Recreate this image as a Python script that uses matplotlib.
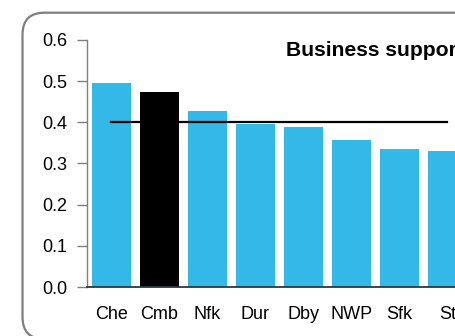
import numpy as np
import matplotlib.pyplot as plt
from matplotlib.patches import FancyBboxPatch

# data
areas = ['Che', 'Cmb', 'Nfk', 'Dur', 'Dby', 'NWP', 'Sfk', 'St']
values = [0.495, 0.473, 0.427, 0.396, 0.388, 0.357, 0.335, 0.330]
bar_colours = ['#33b8e8', '#000000', '#33b8e8', '#33b8e8', '#33b8e8', '#33b8e8', '#33b8e8', '#33b8e8']
average = 0.40
title = 'Business support'

plt.rcParams['font.family'] = ['Liberation Sans', 'DejaVu Sans']

fig = plt.figure(figsize=(4.55, 3.36), dpi=100)

# rounded frame (runs off the right and bottom edge like the reference)
frame = FancyBboxPatch((0.225, -0.03), 5.0, 3.263,
                       boxstyle='round,pad=0,rounding_size=0.22',
                       transform=fig.dpi_scale_trans, fill=False,
                       ec='#7f7f7f', lw=1.6)
fig.patches.append(frame)

ax = fig.add_axes([87/455, 49/336, 9.01*48/455, 247/336])
x = np.arange(len(areas))
ax.bar(x, values, width=0.81, color=bar_colours, zorder=2)
ax.plot([x[0], x[-1]], [average, average], color='black', lw=1.6, zorder=3)

ax.set_xlim(-0.51, 8.5)
ax.set_ylim(0, 0.6)
ax.set_yticks([0.0, 0.1, 0.2, 0.3, 0.4, 0.5, 0.6])
ax.set_yticklabels(['0.0', '0.1', '0.2', '0.3', '0.4', '0.5', '0.6'])
ax.set_xticks(x)
ax.set_xticklabels(areas)
ax.tick_params(axis='y', length=7, width=1, color='#7f7f7f', labelsize=13, pad=7)
ax.tick_params(axis='x', length=0, labelsize=13, pad=14)

for s in ['top', 'right']:
    ax.spines[s].set_visible(False)
ax.spines['left'].set_color('#7f7f7f')
ax.spines['left'].set_linewidth(1)
ax.spines['bottom'].set_color('#2b3a40')
ax.spines['bottom'].set_linewidth(1.3)
ax.spines['bottom'].set_zorder(4)

fig.text(286/455, (336-56)/336, title, fontsize=15.2, fontweight='bold',
         ha='left', va='baseline')

fig.savefig('out.png', dpi=100)
